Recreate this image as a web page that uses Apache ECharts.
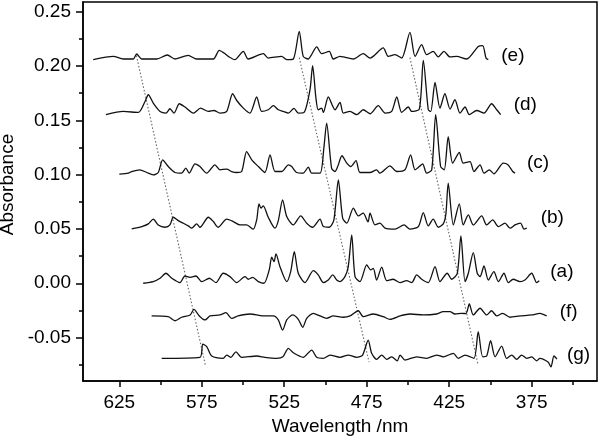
<!DOCTYPE html>
<html>
<head>
<meta charset="utf-8">
<script src="https://cdn.jsdelivr.net/npm/echarts@6/dist/echarts.min.js"></script>
<style>
html, body { margin: 0; padding: 0; background: #fff; }
#chart { width: 600px; height: 440px; }
</style>
</head>
<body>
<div id="chart"></div>
<script type="text/javascript">
// spectra: [wavelength nm, absorbance]
var traceE = [[640.8,0.2059],[628.6,0.2089],[622.6,0.2065],[616.5,0.2065],[614.5,0.2111],[611.4,0.2065],[602.3,0.2065],[595.9,0.2102],[591.2,0.2065],[583.2,0.2098],[578.1,0.2065],[568.0,0.2065],[564.4,0.2144],[561.5,0.2120],[558.9,0.2089],[554.9,0.2059],[549.8,0.2135],[546.8,0.2065],[537.7,0.2114],[534.7,0.2074],[526.6,0.2089],[523.5,0.2059],[519.5,0.2065],[515.9,0.2320],[513.5,0.2089],[510.4,0.2065],[508.8,0.2096],[505.3,0.2176],[502.3,0.2114],[497.7,0.2135],[495.3,0.2065],[491.2,0.2089],[489.2,0.2084],[483.1,0.2065],[477.1,0.2114],[473.0,0.2074],[465.0,0.2167],[461.9,0.2089],[457.9,0.2105],[453.8,0.2074],[448.8,0.2310],[445.7,0.2089],[441.7,0.2197],[438.7,0.2105],[434.7,0.2135],[431.6,0.2084],[428.2,0.2135],[424.5,0.2084],[420.5,0.2089],[414.4,0.2065],[407.4,0.2181],[404.7,0.2188],[402.7,0.2074],[401.3,0.2059]];
var traceD = [[633.1,0.1552],[622.6,0.1582],[613.5,0.1573],[609.4,0.1674],[607.4,0.1736],[604.4,0.1659],[600.3,0.1582],[596.7,0.1567],[594.3,0.1607],[591.8,0.1567],[588.6,0.1653],[585.2,0.1623],[580.1,0.1567],[575.7,0.1613],[571.0,0.1582],[567.6,0.1591],[564.0,0.1567],[559.9,0.1582],[556.3,0.1745],[553.8,0.1683],[549.8,0.1613],[545.8,0.1567],[541.7,0.1715],[538.7,0.1582],[534.7,0.1598],[531.6,0.1635],[528.6,0.1598],[525.6,0.1582],[522.5,0.1567],[519.1,0.1610],[516.5,0.1567],[513.0,0.1573],[509.4,0.1782],[507.8,0.2003],[505.8,0.1706],[504.4,0.1598],[502.3,0.1613],[501.3,0.1573],[498.3,0.1715],[494.2,0.1598],[491.2,0.1665],[489.2,0.1567],[485.1,0.1582],[481.1,0.1552],[477.1,0.1598],[473.0,0.1561],[468.0,0.1635],[463.9,0.1567],[459.9,0.1582],[456.8,0.1715],[453.8,0.1573],[449.8,0.1623],[447.7,0.1582],[443.1,0.1604],[440.7,0.2052],[437.7,0.1598],[436.2,0.1582],[433.6,0.1849],[430.6,0.1613],[427.6,0.1745],[424.5,0.1604],[421.5,0.1690],[418.5,0.1567],[415.4,0.1623],[412.8,0.1552],[408.3,0.1591],[403.9,0.1567],[399.3,0.1653],[396.2,0.1598],[393.8,0.1552]];
var traceC = [[625.0,0.1005],[619.5,0.1014],[617.5,0.1029],[612.5,0.1045],[608.4,0.1020],[604.4,0.0998],[601.4,0.1020],[598.7,0.1137],[595.3,0.1075],[591.2,0.1020],[587.2,0.1014],[584.7,0.1060],[582.6,0.1014],[579.1,0.1100],[576.1,0.1075],[572.0,0.1014],[567.0,0.1091],[564.0,0.1045],[559.9,0.1051],[556.9,0.1029],[553.8,0.1020],[550.8,0.1029],[547.8,0.1213],[544.7,0.1137],[540.7,0.1075],[536.7,0.1020],[533.6,0.1183],[530.6,0.1029],[526.6,0.1029],[522.5,0.1091],[520.5,0.1075],[517.5,0.1020],[513.5,0.1014],[510.4,0.1069],[508.4,0.1014],[503.3,0.1014],[500.9,0.1259],[499.3,0.1475],[496.3,0.1060],[494.3,0.1029],[492.6,0.1075],[490.0,0.1174],[487.1,0.1106],[484.7,0.1075],[481.5,0.1130],[479.1,0.1020],[473.0,0.1020],[469.0,0.1045],[467.0,0.1014],[460.9,0.1081],[456.8,0.1029],[451.8,0.1045],[448.4,0.1183],[445.7,0.1045],[443.1,0.1075],[441.1,0.1100],[438.7,0.1014],[435.6,0.1045],[433.2,0.1552],[430.2,0.1075],[428.0,0.1045],[425.6,0.1349],[422.9,0.1106],[418.9,0.1204],[416.5,0.1106],[412.4,0.1121],[410.0,0.1029],[406.3,0.1091],[403.9,0.1014],[400.7,0.1045],[397.9,0.1008],[392.2,0.1106],[389.4,0.1091],[386.5,0.1029],[385.1,0.1014]];
var traceB = [[617.5,0.0501],[611.4,0.0522],[607.4,0.0547],[604.4,0.0590],[601.4,0.0537],[597.3,0.0516],[594.3,0.0537],[592.3,0.0608],[589.2,0.0577],[586.2,0.0553],[583.2,0.0528],[581.1,0.0507],[578.1,0.0547],[576.1,0.0516],[571.0,0.0608],[568.0,0.0568],[565.0,0.0516],[559.9,0.0590],[555.9,0.0568],[551.8,0.0537],[547.8,0.0537],[543.8,0.0498],[541.7,0.0584],[540.3,0.0731],[539.1,0.0691],[537.7,0.0713],[534.7,0.0608],[530.6,0.0507],[528.6,0.0577],[526.0,0.0768],[523.5,0.0614],[519.5,0.0537],[515.0,0.0620],[511.4,0.0553],[507.8,0.0516],[503.3,0.0590],[501.3,0.0522],[497.7,0.0516],[494.9,0.0584],[492.2,0.0952],[489.6,0.0599],[487.1,0.0553],[483.1,0.0691],[480.1,0.0620],[477.1,0.0645],[474.2,0.0565],[473.0,0.0645],[470.0,0.0537],[467.0,0.0553],[463.9,0.0507],[457.9,0.0498],[452.4,0.0537],[448.8,0.0498],[443.7,0.0522],[440.7,0.0651],[437.7,0.0528],[434.7,0.0590],[431.6,0.0516],[428.6,0.0547],[427.0,0.0639],[425.6,0.0922],[422.5,0.0537],[418.9,0.0731],[416.5,0.0537],[413.4,0.0630],[410.4,0.0537],[405.3,0.0620],[402.3,0.0537],[398.6,0.0584],[395.2,0.0522],[391.2,0.0553],[388.1,0.0507],[385.1,0.0537],[381.7,0.0553],[379.7,0.0498],[378.0,0.0507]];
var traceA = [[610.5,0.0000],[604.4,0.0015],[600.3,0.0046],[596.7,0.0092],[593.2,0.0046],[588.2,0.0006],[585.2,0.0067],[582.1,0.0055],[578.5,0.0067],[575.0,0.0015],[570.4,0.0046],[566.4,0.0006],[562.0,0.0092],[557.9,0.0061],[553.8,0.0006],[548.8,0.0061],[546.8,0.0037],[544.1,0.0055],[540.7,0.0015],[537.3,0.0000],[534.1,0.0123],[532.6,0.0240],[531.2,0.0199],[530.0,0.0270],[527.6,0.0153],[523.5,0.0015],[521.1,0.0107],[518.9,0.0291],[516.5,0.0092],[512.4,0.0006],[507.4,0.0116],[504.4,0.0077],[501.3,0.0006],[498.3,0.0030],[495.6,0.0077],[493.2,0.0030],[491.2,0.0015],[488.2,0.0061],[486.2,0.0153],[484.1,0.0445],[482.1,0.0061],[479.1,0.0015],[475.0,0.0169],[472.6,0.0123],[471.0,0.0138],[469.0,0.0030],[465.9,0.0148],[462.9,0.0024],[458.9,0.0037],[454.8,0.0006],[450.8,0.0024],[447.7,0.0006],[444.7,0.0077],[441.7,0.0037],[437.7,0.0006],[433.6,0.0153],[430.6,0.0015],[426.2,0.0092],[423.5,0.0037],[420.1,0.0092],[417.9,0.0436],[415.4,0.0015],[413.4,0.0092],[410.4,0.0282],[408.0,0.0092],[406.3,0.0061],[403.9,0.0159],[401.3,0.0030],[397.9,0.0107],[395.2,0.0015],[391.8,0.0092],[389.2,0.0006],[386.2,0.0037],[382.1,0.0015],[379.1,0.0030],[375.0,0.0092],[372.0,0.0006],[370.4,0.0024]];
var traceF = [[605.4,-0.0301],[595.3,-0.0308],[591.2,-0.0345],[587.2,-0.0313],[582.1,-0.0292],[579.7,-0.0240],[576.5,-0.0301],[573.0,-0.0338],[570.0,-0.0301],[564.0,-0.0292],[560.3,-0.0271],[556.9,-0.0323],[553.0,-0.0301],[545.8,-0.0283],[537.7,-0.0301],[531.6,-0.0301],[528.6,-0.0338],[526.0,-0.0431],[523.5,-0.0338],[519.9,-0.0292],[516.5,-0.0332],[513.8,-0.0406],[511.4,-0.0323],[507.4,-0.0277],[503.3,-0.0301],[499.3,-0.0323],[495.3,-0.0301],[489.2,-0.0313],[485.1,-0.0301],[480.1,-0.0253],[477.1,-0.0308],[471.0,-0.0283],[465.0,-0.0308],[460.9,-0.0332],[454.8,-0.0301],[448.8,-0.0283],[440.7,-0.0292],[432.6,-0.0283],[428.6,-0.0262],[424.5,-0.0262],[421.5,-0.0283],[417.4,-0.0277],[414.8,-0.0279],[412.8,-0.0191],[410.4,-0.0292],[406.3,-0.0230],[402.3,-0.0292],[399.3,-0.0253],[396.2,-0.0301],[392.6,-0.0277],[388.1,-0.0313],[382.1,-0.0301],[375.0,-0.0292],[370.0,-0.0277],[365.9,-0.0301]];
var traceG = [[599.3,-0.0691],[576.1,-0.0682],[574.4,-0.0560],[572.0,-0.0584],[569.0,-0.0670],[562.0,-0.0691],[559.9,-0.0661],[557.3,-0.0682],[554.3,-0.0631],[550.8,-0.0682],[541.7,-0.0670],[536.7,-0.0682],[529.6,-0.0691],[525.8,-0.0677],[522.5,-0.0599],[519.5,-0.0640],[513.5,-0.0682],[508.4,-0.0615],[505.3,-0.0682],[501.3,-0.0691],[497.3,-0.0661],[491.2,-0.0682],[486.2,-0.0661],[481.1,-0.0682],[477.5,-0.0661],[474.1,-0.0523],[472.0,-0.0645],[469.0,-0.0701],[465.9,-0.0661],[462.9,-0.0701],[459.9,-0.0677],[456.5,-0.0714],[454.8,-0.0661],[451.8,-0.0707],[444.7,-0.0677],[438.7,-0.0691],[432.6,-0.0661],[428.6,-0.0677],[422.5,-0.0645],[419.5,-0.0691],[415.4,-0.0661],[410.0,-0.0691],[407.4,-0.0446],[404.7,-0.0677],[402.3,-0.0670],[399.9,-0.0529],[397.2,-0.0677],[393.2,-0.0578],[390.2,-0.0691],[387.1,-0.0661],[384.1,-0.0701],[381.1,-0.0661],[378.0,-0.0691],[375.0,-0.0677],[372.0,-0.0714],[370.0,-0.0691],[365.1,-0.0726],[363.3,-0.0769],[361.5,-0.0670],[359.7,-0.0698]];

// dotted guide lines through the shifted peaks
var guide1 = [[614.6,0.2096],[572.7,-0.0762]];
var guide2 = [[515.9,0.2077],[473.6,-0.0726]];
var guide3 = [[448.8,0.2077],[407.6,-0.0744]];

var xLabels = [625, 575, 525, 475, 425, 375];
var xMinor = [600, 550, 500, 450, 400, 350];
var yLabels = [-0.05, 0, 0.05, 0.10, 0.15, 0.20, 0.25];
var yMinor = [-0.075, -0.025, 0.025, 0.075, 0.125, 0.175, 0.225];

// label text and its shift (px) from the trace end
var traces = [
    {name: '(e)', data: traceE, off: [13, -4]},
    {name: '(d)', data: traceD, off: [13, -10]},
    {name: '(c)', data: traceC, off: [12, -10]},
    {name: '(b)', data: traceB, off: [14, -10]},
    {name: '(a)', data: traceA, off: [11, -9]},
    {name: '(f)', data: traceF, off: [13, -4]},
    {name: '(g)', data: traceG, off: [10, -4]}
];

var font = "'Liberation Sans', Arial, sans-serif";
var fs = 19;
var myChart = echarts.init(document.getElementById('chart'));

var series = [];
[guide1, guide2, guide3].forEach(function (g) {
    series.push({
        type: 'line', data: g, showSymbol: false, silent: true,
        lineStyle: {color: '#666', width: 1.1, type: [1.5, 2]}
    });
});
traces.forEach(function (t) {
    var last = t.data[t.data.length - 1];
    series.push({
        name: t.name, type: 'line', data: t.data, showSymbol: false,
        smooth: 0.25,
        lineStyle: {color: '#111', width: 1.3},
        markPoint: {
            symbol: 'circle', symbolSize: 0, silent: true,
            label: {
                show: true, formatter: t.name, position: 'right', distance: t.off[0],
                offset: [0, t.off[1]], color: '#000', fontSize: fs, fontFamily: font
            },
            data: [{coord: last}]
        }
    });
});

var option = {
    animation: false,
    grid: {
        left: 83, right: 3, top: 2, bottom: 59, containLabel: false, outerBoundsMode: 'none',
        show: true, borderColor: '#000', borderWidth: 1.5
    },
    xAxis: [
        {
            type: 'value', inverse: true, min: 335.4, max: 647.0,
            name: 'Wavelength /nm', nameLocation: 'middle', nameGap: 35,
            nameTextStyle: {color: '#000', fontSize: fs, fontFamily: font},
            axisLine: {onZero: false, lineStyle: {color: '#000', width: 1.5}},
            axisTick: {customValues: xLabels, length: 6, lineStyle: {color: '#000', width: 1.5}},
            axisLabel: {customValues: xLabels, margin: 12, color: '#000', fontSize: fs, fontFamily: font},
            splitLine: {show: false}
        },
        {
            type: 'value', inverse: true, min: 335.4, max: 647.0, position: 'bottom',
            axisLine: {show: false, onZero: false},
            axisTick: {customValues: xMinor, length: 4, lineStyle: {color: '#000', width: 1.5}},
            axisLabel: {show: false},
            splitLine: {show: false}
        }
    ],
    yAxis: [
        {
            type: 'value', min: -0.090, max: 0.259,
            name: 'Absorbance', nameLocation: 'middle', nameGap: 63,
            nameTextStyle: {color: '#000', fontSize: fs, fontFamily: font, padding: [0, 0, 0, 14]},
            axisLine: {onZero: false, lineStyle: {color: '#000', width: 1.5}},
            axisTick: {customValues: yLabels, length: 7, lineStyle: {color: '#000', width: 1.5}},
            axisLabel: {
                customValues: yLabels, margin: 12, color: '#000', fontSize: fs, fontFamily: font,
                formatter: function (v) { return v.toFixed(2); }
            },
            splitLine: {show: false}
        },
        {
            type: 'value', min: -0.090, max: 0.259, position: 'left',
            axisLine: {show: false, onZero: false},
            axisTick: {customValues: yMinor, length: 4, lineStyle: {color: '#000', width: 1.5}},
            axisLabel: {show: false},
            splitLine: {show: false}
        }
    ],
    series: series
};

myChart.setOption(option);
</script>
</body>
</html>
